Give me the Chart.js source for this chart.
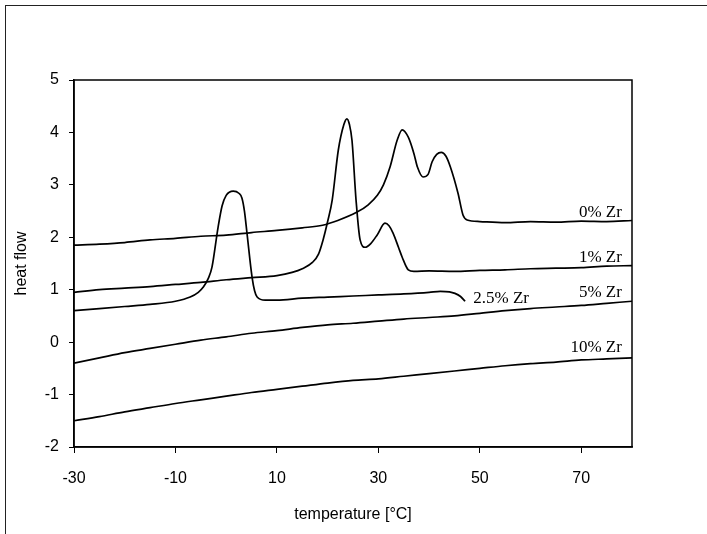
<!DOCTYPE html>
<html><head><meta charset="utf-8">
<script src="https://cdn.jsdelivr.net/npm/chart.js@4.4.0/dist/chart.umd.min.js"></script>
<style>html,body{margin:0;padding:0;background:#fff;}#wrap{width:707px;height:534px;position:relative;}</style>
</head><body><div id="wrap"><canvas id="c" width="707" height="534"></canvas></div>
<script>
// ---- data ----
const xTicks = [-30, -10, 10, 30, 50, 70];
const yTicks = [-2, -1, 0, 1, 2, 3, 4, 5];
const seriesNames = ['0% Zr', '1% Zr', '2.5% Zr', '5% Zr', '10% Zr'];

const temp0 = [-30,-25,-20,-15,-10,-5,0,5,10,15,19,22,25.8,28,29.8,31,32.3,33.7,34.7,35.9,37,37.7,38.8,39.8,40.6,41.5,42.4,43.3,44.2,45.7,46.7,47.5,50,55,60,65,70,75,80];
const flow0 = [1.85,1.87,1.9,1.95,1.98,2.02,2.04,2.09,2.13,2.18,2.23,2.32,2.48,2.62,2.8,3.0,3.34,3.85,4.05,3.91,3.6,3.34,3.15,3.2,3.44,3.58,3.62,3.55,3.34,2.84,2.42,2.33,2.3,2.28,2.3,2.29,2.31,2.3,2.32];

const temp1 = [-30,-25,-20,-15,-10,-5,0,5,10,13,15,17,18.2,19.1,20,20.9,22.1,23.2,23.8,24.3,24.8,25.6,26.4,27.4,28.5,29.8,31.3,32.1,32.9,34,34.7,35.9,37,40,45,50,55,60,65,70,75,80];
const flow1 = [0.95,1.0,1.03,1.06,1.1,1.14,1.19,1.23,1.27,1.33,1.4,1.52,1.68,1.95,2.3,2.71,3.66,4.15,4.26,4.15,3.85,2.71,1.95,1.81,1.88,2.05,2.27,2.22,2.08,1.8,1.62,1.38,1.35,1.36,1.35,1.37,1.38,1.4,1.41,1.42,1.45,1.46];

const temp25 = [-30,-25,-20,-15,-10,-7.1,-5.5,-4.5,-3.5,-2.8,-1.6,-0.8,0,1.4,2.5,3.1,3.6,4.1,5.1,5.6,6.1,7.7,10,15,20,25,30,35,40,42.2,44,45.1,46.2,47.1];
const flow25 = [0.6,0.64,0.68,0.72,0.78,0.86,0.95,1.05,1.22,1.43,2.19,2.6,2.8,2.88,2.84,2.75,2.5,2.08,1.24,0.98,0.86,0.8,0.8,0.84,0.86,0.88,0.9,0.92,0.95,0.97,0.96,0.93,0.87,0.78];

const temp5 = [-30,-25,-20,-15,-10,-5,0,5,10,15,20,25,30,35,40,45,50,55,60,65,70,75,80];
const flow5 = [-0.4,-0.3,-0.2,-0.12,-0.04,0.04,0.1,0.17,0.22,0.28,0.33,0.36,0.4,0.44,0.47,0.5,0.55,0.6,0.64,0.67,0.7,0.74,0.78];

const temp10 = [-30,-25,-20,-15,-10,-5,0,5,10,15,20,25,30,35,40,45,50,55,60,65,70,75,80];
const flow10 = [-1.5,-1.42,-1.33,-1.25,-1.17,-1.1,-1.03,-0.96,-0.9,-0.84,-0.78,-0.73,-0.7,-0.65,-0.6,-0.55,-0.5,-0.45,-0.41,-0.38,-0.34,-0.32,-0.3];

// label anchor points (data coordinates)
const labelTemp = [78, 78, 48.7, 78, 78];
const labelFlow = [2.48, 1.62, 0.84, 0.94, -0.11];

// ---- chart ----
const temps = [temp0, temp1, temp25, temp5, temp10];
const flows = [flow0, flow1, flow25, flow5, flow10];
const labelAlign = ['right', 'right', 'left', 'right', 'right'];
const SANS = '"Liberation Sans", Arial, sans-serif';
const SERIF = '"Liberation Serif", "Times New Roman", serif';

const datasets = seriesNames.map((name, i) => ({
  label: name,
  data: temps[i].map((t, j) => ({ x: t, y: flows[i][j] })),
  borderColor: '#000',
  borderWidth: 1.7,
  pointRadius: 0,
  fill: false,
  cubicInterpolationMode: 'monotone'
}));

const framePlugin = {
  id: 'frame',
  beforeDraw(chart) {
    const ctx = chart.ctx;
    ctx.save();
    ctx.fillStyle = '#fff';
    ctx.fillRect(0, 0, chart.width, chart.height);
    ctx.strokeStyle = '#222';
    ctx.lineWidth = 1;
    ctx.strokeRect(5.5, 5.5, chart.width + 20, chart.height + 20);
    ctx.restore();
  },
  afterDraw(chart) {
    const ctx = chart.ctx;
    const a = chart.chartArea;
    ctx.save();
    ctx.strokeStyle = '#000';
    ctx.lineWidth = 1.5;
    ctx.strokeRect(a.left, a.top, a.right - a.left, a.bottom - a.top);
    const xs = chart.scales.x, ys = chart.scales.y;
    ctx.fillStyle = '#000';
    ctx.font = '17px ' + SERIF;
    ctx.textBaseline = 'middle';
    seriesNames.forEach((name, i) => {
      ctx.textAlign = labelAlign[i];
      ctx.fillText(name, xs.getPixelForValue(labelTemp[i]), ys.getPixelForValue(labelFlow[i]));
    });
    ctx.restore();
  }
};

new Chart(document.getElementById('c'), {
  type: 'line',
  data: { datasets },
  options: {
    responsive: false,
    animation: false,
    devicePixelRatio: 1,
    layout: { padding: { top: 80, right: 75, bottom: 0, left: 0 } },
    plugins: { legend: { display: false }, tooltip: { enabled: false } },
    scales: {
      x: {
        type: 'linear', min: -30, max: 80,
        afterBuildTicks: s => { s.ticks = xTicks.map(v => ({ value: v })); },
        afterFit: s => { s.height = 87; },
        grid: { drawOnChartArea: false, drawTicks: true, tickLength: 6, color: '#000', lineWidth: 1 },
        border: { display: true, color: '#000', width: 1.5 },
        ticks: { color: '#000', font: { family: SANS, size: 16 }, padding: 16, maxRotation: 0, autoSkip: false },
        title: { display: true, text: 'temperature [°C]', color: '#000', font: { family: SANS, size: 16 }, padding: { top: 0, bottom: 10 } }
      },
      y: {
        type: 'linear', min: -2, max: 5,
        afterBuildTicks: s => { s.ticks = yTicks.map(v => ({ value: v })); },
        afterFit: s => { s.width = 74; },
        grid: { drawOnChartArea: false, drawTicks: true, tickLength: 5, color: '#000', lineWidth: 1 },
        border: { display: true, color: '#000', width: 1.5 },
        ticks: { color: '#000', font: { family: SANS, size: 16 }, padding: 10 },
        title: { display: true, text: 'heat flow', color: '#000', font: { family: SANS, size: 16 }, padding: { top: 12, bottom: 0 } }
      }
    }
  },
  plugins: [framePlugin]
});
</script></body></html>
